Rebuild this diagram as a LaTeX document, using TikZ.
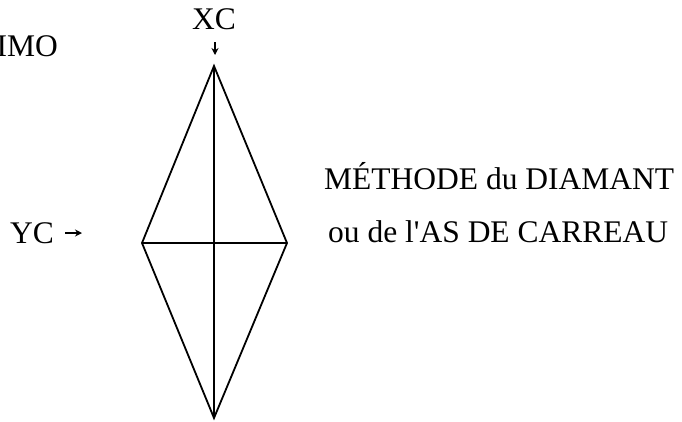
\documentclass[tikz,border=0pt]{standalone}
\usepackage{fontspec}
\newfontfamily\reffont{Liberation Serif}
\usetikzlibrary{arrows.meta}
\begin{document}
\begin{tikzpicture}[x=1pt,y=-1pt,
  txt/.style={inner sep=0pt,font=\reffont\fontsize{31.5}{31.5}\selectfont},
  edge/.style={line width=1.8pt,line join=miter},
  marker/.style={line width=1.3pt,-{Stealth[length=7pt,width=7pt]}}]
\useasboundingbox (0,0) rectangle (682,421);
% diamond vertices
\coordinate (T) at (214,66);
\coordinate (B) at (214,418);
\coordinate (L) at (142,243);
\coordinate (R) at (287,243);
\draw[edge] (T) -- (R) -- (B) -- (L) -- cycle;
\draw[edge] (T) -- (B);
\draw[edge] (L) -- (R);
% labels
\node[txt,anchor=base east] (imo) at (58,56) {IMO};
\node[txt,anchor=base] (xc) at (214,29) {XC};
\node[txt,anchor=base east] (yc) at (54,243) {YC};
\node[txt,anchor=base west] (m1) at (324,189) {MÉTHODE du DIAMANT};
\node[txt,anchor=base west] (m2) at (328,242) {ou de l'AS DE CARREAU};
% small arrows
\coordinate (xa) at (215,42);
\coordinate (xb) at (215,55);
\draw[marker] (xa) -- (xb);
\coordinate (ya) at (65,233);
\coordinate (yb) at (82,233);
\draw[marker] (ya) -- (yb);
\end{tikzpicture}
\end{document}
